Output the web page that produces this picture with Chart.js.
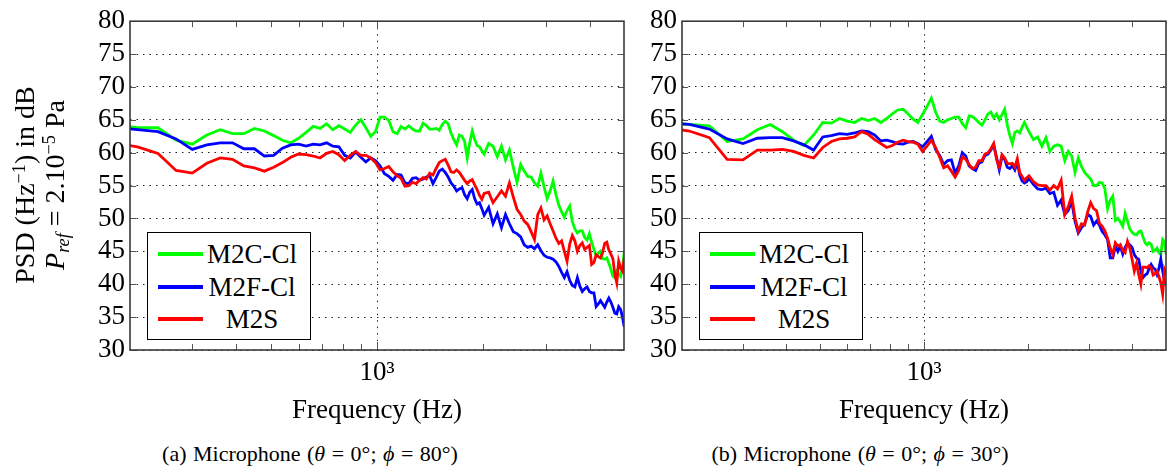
<!DOCTYPE html>
<html>
<head>
<meta charset="utf-8">
<script src="https://cdn.jsdelivr.net/npm/chart.js@4.4.0/dist/chart.umd.min.js"></script>
<style>
  html, body { margin:0; padding:0; background:#fff; }
  body { width:1173px; height:470px; overflow:hidden; position:relative; font-family:"Liberation Serif", serif; color:#000; }
  canvas { position:absolute; top:0; }
  #cA { left:0; }
  #cB { left:552px; }
  .legend { position:absolute; top:232px; width:162px; height:106px; border:1px solid #000; background:#fff; z-index:5; }
  .legend .row { position:absolute; left:0; width:162px; height:32px; }
  .legend .sw { position:absolute; left:10px; top:14px; width:45px; height:3.5px; }
  .legend .tx { position:absolute; left:54px; width:100px; top:0; line-height:32px; font-size:27px; text-align:center; white-space:nowrap; }
  .cap { position:absolute; top:441px; width:400px; text-align:center; font-size:22px; word-spacing:1px; white-space:nowrap; }
  .ytitle { position:absolute; left:-100px; top:155px; width:280px; height:60px; transform:rotate(-90deg); transform-origin:50% 50%; text-align:center; font-size:28px; line-height:30px; white-space:nowrap; }
  sup { font-size:0.65em; vertical-align:0.5em; line-height:0; }
  sub { font-size:0.65em; vertical-align:-0.3em; line-height:0; }
</style>
</head>
<body>
<canvas id="cA" width="650" height="430"></canvas>
<canvas id="cB" width="621" height="430"></canvas>

<div class="ytitle">PSD (Hz<sup>−1</sup>) in dB<br><i>P</i><sub><i>ref</i></sub> = 2.10<sup>−5</sup> Pa</div>

<div class="legend" style="left:147px;">
  <div class="row" style="top:5px;"><div class="sw" style="background:#00ff00"></div><div class="tx">M2C-Cl</div></div>
  <div class="row" style="top:38px;"><div class="sw" style="background:#0000ff"></div><div class="tx">M2F-Cl</div></div>
  <div class="row" style="top:70px;"><div class="sw" style="background:#ff0000"></div><div class="tx">M2S</div></div>
</div>
<div class="legend" style="left:699px;">
  <div class="row" style="top:5px;"><div class="sw" style="background:#00ff00"></div><div class="tx">M2C-Cl</div></div>
  <div class="row" style="top:38px;"><div class="sw" style="background:#0000ff"></div><div class="tx">M2F-Cl</div></div>
  <div class="row" style="top:70px;"><div class="sw" style="background:#ff0000"></div><div class="tx">M2S</div></div>
</div>

<div class="cap" style="left:110px;">(a) Microphone (<i>θ</i> = 0°; <i>ϕ</i> = 80°)</div>
<div class="cap" style="left:660px;">(b) Microphone (<i>θ</i> = 0°; <i>ϕ</i> = 30°)</div>

<script>
// ---------- DATA ----------
const seriesNames = ['M2C-Cl', 'M2F-Cl', 'M2S'];

const freq = [180,210,240,270,300,330,360,390,420,450,480,510,540,570,600,630,660,690,720,750,780,810,840,870,900,930,960,990,1020,1050,
  1080,1110,1140,1170,1200,1230,1260,1290,1320,1350,1380,1410,1440,1470,1500,1530,1560,1590,1620,1650,1680,1710,1740,1770,1800,1830,1860,1890,1920,1950,1980,2010,
  2070,2130,2190,2250,2310,2370,2430,2490,2550,2610,2670,2730,2790,2850,2910,2970,3030,3090,3150,3210,3270,3330,3390,3450,3510,3570,3630,3690,3750,3810,3870,3930,3990,
  4050,4110,4170,4230,4290,4350,4410,4470,4530,4590,4650,4710,4770,4830,4890,4950,5010];

// Panel (a) : theta = 0, phi = 80
const m2cA = [64.3,63.8,63.8,61.9,61.3,62.7,63.5,62.9,62.9,63.7,63.3,62.6,61.9,61.5,62.2,63.1,64.0,63.7,64.4,63.5,64.1,63.6,63.1,64.2,65.0,63.8,62.5,63.2,65.4,
  65.4,64.9,63.2,62.9,64.0,63.6,64.1,63.6,63.3,63.3,64.5,64.1,63.6,63.6,63.7,63.4,64.3,64.8,64.4,63.0,62.0,61.2,62.7,62.5,61.7,59.2,61.5,63.3,62.0,61.1,60.9,60.3,59.8,
  61.4,61.0,59.4,61.0,58.9,60.4,57.8,55.5,58.2,57.2,56.4,56.3,55.4,54.9,56.9,54.8,53.0,54.2,55.7,53.6,52.0,51.0,50.2,51.2,51.9,49.5,48.4,47.8,48.1,48.1,
  47.1,46.7,47.7,46.4,45.3,44.3,44.7,45.0,43.9,43.8,44.0,43.2,42.3,41.2,41.0,42.0,41.6,41.2,42.5,45.0];
const m2fA = [63.9,63.5,63.2,62.1,60.5,61.2,61.5,61.5,60.6,60.6,59.5,59.6,60.7,61.2,61.3,61.0,61.3,61.2,61.5,61.0,60.9,59.6,59.2,60.1,59.3,58.6,59.2,58.8,58.0,
  56.8,56.4,55.8,56.7,56.6,55.4,55.3,56.1,56.2,55.8,56.0,56.3,56.5,55.3,56.2,57.2,57.5,57.0,56.3,55.4,54.9,54.2,54.5,54.7,53.6,53.0,54.0,54.4,53.0,52.2,52.4,51.5,50.5,
  51.7,49.2,50.7,48.6,50.6,49.2,48.0,47.7,47.2,46.0,45.6,45.8,45.4,46.0,45.1,44.4,44.1,44.0,43.8,43.4,42.7,41.8,41.0,41.9,40.6,39.8,39.6,41.0,39.7,38.9,
  39.3,39.6,38.9,38.7,38.7,36.6,37.0,37.5,37.0,36.5,37.3,37.9,37.3,36.5,35.6,35.5,36.6,36.2,35.0,33.5];
const m2sA = [61.5,60.9,59.9,57.3,56.9,58.4,59.2,59.0,58.0,57.7,57.2,57.8,58.5,59.3,59.8,59.7,59.5,59.2,59.9,60.2,59.7,58.8,59.6,60.2,59.6,59.6,59.2,58.5,57.4,
  57.6,57.9,57.1,56.5,56.1,54.9,55.0,55.5,55.3,55.8,56.2,56.0,56.9,56.6,57.6,58.5,58.8,59.0,58.1,57.1,57.0,57.4,57.0,56.4,55.8,55.3,55.7,55.9,55.1,54.4,53.5,52.9,53.8,
  54.0,52.4,53.3,54.2,53.4,55.4,53.3,51.4,50.6,49.6,49.1,48.0,46.8,50.6,51.6,49.8,50.4,49.2,48.1,47.0,46.2,46.6,45.0,43.5,46.1,47.4,46.6,45.0,45.9,46.3,
  45.3,45.6,45.9,43.0,43.3,44.5,44.2,44.0,44.8,46.2,46.4,45.2,44.6,43.9,41.5,40.2,43.5,42.5,42.0,44.0];

// Panel (b) : theta = 0, phi = 30
const m2cB = [64.5,64.3,64.1,61.7,62.1,63.5,64.3,63.2,61.9,61.1,62.7,64.6,64.5,65.2,64.8,64.6,65.2,64.9,65.2,64.6,65.2,65.9,66.5,66.6,65.9,65.1,64.6,65.8,67.0,68.3,
  66.2,64.8,64.6,65.0,65.2,65.4,65.4,64.4,63.8,65.6,65.5,65.1,64.6,64.2,65.0,65.9,66.2,65.3,65.9,65.0,65.8,66.6,64.2,62.6,61.4,63.1,63.3,63.0,63.9,64.6,63.9,63.2,
  62.0,62.4,61.0,62.3,60.2,61.0,61.2,61.0,58.8,60.2,59.5,57.0,59.2,57.9,57.0,56.5,56.0,55.0,55.0,55.5,55.4,54.5,51.5,52.8,53.4,49.7,50.0,49.5,48.8,50.8,
  49.6,48.4,47.9,47.6,47.5,48.0,48.1,47.2,46.3,46.0,46.3,46.1,45.0,45.2,45.5,44.8,44.5,46.8,46.5,44.5];
const m2fB = [64.6,64.3,63.6,62.1,61.4,62.2,62.3,62.3,61.8,61.2,60.4,62.4,62.6,62.9,62.8,63.0,63.3,63.2,62.7,61.8,61.9,61.7,61.4,61.3,61.6,61.7,61.4,60.9,61.7,62.5,
  60.5,59.6,58.2,58.8,58.9,56.9,58.0,60.0,59.5,58.0,57.6,57.3,58.4,58.6,59.6,59.8,60.4,61.2,59.3,57.4,59.4,59.0,57.8,57.6,58.0,57.4,58.6,56.6,55.7,55.4,55.6,56.1,
  55.2,54.5,54.4,54.6,53.8,54.0,52.0,52.8,50.6,51.2,52.6,49.6,47.8,48.6,49.2,50.6,50.3,49.0,49.6,49.0,48.0,47.5,46.8,44.0,44.0,45.8,45.0,45.8,44.6,45.6,
  46.2,46.0,45.6,44.5,44.0,43.8,42.0,41.0,41.4,41.6,42.4,43.0,42.5,42.3,41.5,42.4,43.8,42.0,40.5,39.8];
const m2sB = [63.8,63.3,62.3,59.0,58.9,60.4,60.4,60.5,60.2,59.6,59.2,60.8,61.7,62.1,62.2,62.4,63.2,62.8,62.0,61.4,60.8,61.1,61.6,61.9,61.7,61.6,61.3,60.2,61.0,61.9,
  60.8,59.3,57.7,58.0,57.2,56.3,57.3,59.4,59.0,58.2,57.6,57.8,58.8,58.8,59.8,60.0,60.6,61.4,59.0,57.8,59.7,59.2,58.4,58.3,58.4,57.8,59.1,57.0,56.4,55.8,56.2,56.5,
  55.6,55.1,55.0,55.0,54.3,55.0,54.5,55.8,50.6,51.8,53.4,50.1,48.1,49.2,49.0,51.0,52.4,51.5,51.2,49.3,48.8,48.1,47.0,45.5,44.5,46.3,45.8,46.0,45.1,44.8,
  46.5,45.5,43.8,42.0,43.2,41.5,40.0,42.6,42.6,42.5,42.8,42.5,41.4,41.6,42.0,41.2,40.2,38.5,42.2,41.5];

// Axis ticks
const xTickValues = [200,300,400,500,600,700,800,900,1000,2000,3000,4000,5000];
const xLabelled = 1000;
const xLabelText = '10³';
const yTickValues = [30,35,40,45,50,55,60,65,70,75,80];
const xTitle = 'Frequency (Hz)';

const colors = ['#00ff00', '#0000ff', '#ff0000'];

// ---------- CHART ----------
const FAMILY = '"Liberation Serif", serif';
Chart.defaults.font.family = FAMILY;
Chart.defaults.color = '#000';

const framePlugin = {
  id: 'frame',
  afterDraw(chart) {
    const { ctx, chartArea: a, scales: { x, y } } = chart;
    ctx.save();
    ctx.strokeStyle = '#555';
    ctx.lineWidth = 1;
    ctx.beginPath();
    xTickValues.forEach(v => {
      if (v <= 200 || v >= 5000) return;
      const px = Math.round(x.getPixelForValue(v)) + 0.5;
      const L = v === xLabelled ? 8 : 6;
      ctx.moveTo(px, a.bottom); ctx.lineTo(px, a.bottom - L);
      ctx.moveTo(px, a.top); ctx.lineTo(px, a.top + L);
    });
    yTickValues.forEach(v => {
      const py = Math.round(y.getPixelForValue(v)) + 0.5;
      ctx.moveTo(a.left, py); ctx.lineTo(a.left + 6, py);
      ctx.moveTo(a.right, py); ctx.lineTo(a.right - 6, py);
    });
    ctx.stroke();
    ctx.strokeStyle = '#3a3a3a';
    ctx.lineWidth = 1.6;
    ctx.strokeRect(a.left, a.top, a.right - a.left, a.bottom - a.top);
    ctx.restore();
  }
};

function makePanel(id, c, f, s, padRight) {
  const series = [c, f, s];
  const datasets = series.map((arr, i) => ({
    label: seriesNames[i],
    data: freq.map((fr, k) => ({ x: fr, y: arr[k] })),
    borderColor: colors[i],
    backgroundColor: colors[i],
    borderWidth: 2.8,
    pointRadius: 0,
    tension: 0,
    fill: false,
    order: 2 - i
  }));
  return new Chart(document.getElementById(id), {
    type: 'line',
    data: { datasets },
    options: {
      responsive: false,
      animation: false,
      devicePixelRatio: 1,
      layout: { padding: { top: 16.5, right: padRight, bottom: 0, left: 0 } },
      plugins: { legend: { display: false }, tooltip: { enabled: false } },
      scales: {
        x: {
          type: 'logarithmic',
          min: 200, max: 5000,
          afterBuildTicks: sc => { sc.ticks = xTickValues.map(v => ({ value: v })); },
          afterFit: sc => { sc.height = 80; },
          ticks: {
            autoSkip: false, maxRotation: 0, padding: 7,
            font: { size: 27, family: FAMILY },
            callback: v => (v === xLabelled ? xLabelText : '')
          },
          grid: {
            drawTicks: false,
            lineWidth: 1,
            color: ctx => (ctx.tick && ctx.tick.value === xLabelled ? '#222' : 'rgba(0,0,0,0)')
          },
          border: { display: false, dash: [1.5, 5] },
          title: { display: true, text: xTitle, font: { size: 27, family: FAMILY }, padding: { top: 0, bottom: 2.8 } }
        },
        y: {
          min: 30, max: 80,
          afterBuildTicks: sc => { sc.ticks = yTickValues.map(v => ({ value: v })); },
          afterFit: sc => { sc.width = 130; },
          ticks: { padding: 5, autoSkip: false, font: { size: 27, family: FAMILY } },
          grid: { drawTicks: false, lineWidth: 1, color: '#222' },
          border: { display: false, dash: [1.5, 5] }
        }
      }
    },
    plugins: [framePlugin]
  });
}

function drawAll() {
  makePanel('cA', m2cA, m2fA, m2sA, 26);
  makePanel('cB', m2cB, m2fB, m2sB, 1);
}
if (document.fonts && document.fonts.load) {
  document.fonts.load('27px "Liberation Serif"').then(drawAll, drawAll);
} else {
  drawAll();
}
</script>
</body>
</html>
